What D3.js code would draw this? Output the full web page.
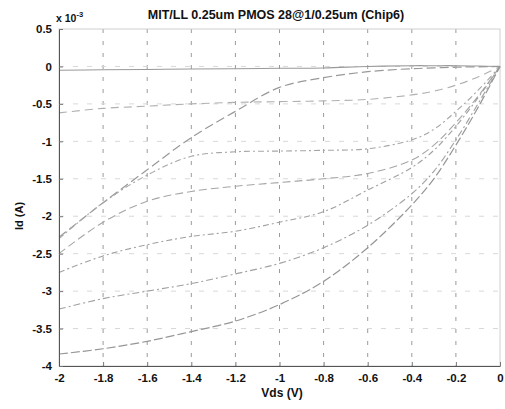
<!DOCTYPE html>
<html>
<head>
<meta charset="utf-8">
<script src="https://cdn.jsdelivr.net/npm/d3@7"></script>
<style>
  body { margin: 0; background: #fff; }
  svg { display: block; font-family: "Liberation Sans", Arial, sans-serif; }
</style>
</head>
<body>
<svg id="chart" width="505" height="409"></svg>
<script>
// Drain-source voltage sweep points (V)
const vds = [-2, -1.8, -1.6, -1.4, -1.2, -1.0, -0.8, -0.6, -0.4, -0.3, -0.2, -0.1, 0];

// Drain current of each sweep, in units of 1e-3 A
const sweep1 = [-0.05, -0.045, -0.04, -0.035, -0.03, -0.025, -0.02, 0.0, 0.01, 0.01, 0.01, 0.005, 0];
const sweep2 = [-0.62, -0.56, -0.53, -0.50, -0.48, -0.47, -0.46, -0.44, -0.38, -0.33, -0.25, -0.14, 0];
const sweep3 = [-2.28, -1.82, -1.38, -0.95, -0.60, -0.28, -0.15, -0.07, -0.03, -0.02, -0.01, -0.005, 0];
const sweep4 = [-2.30, -1.82, -1.45, -1.20, -1.14, -1.13, -1.12, -1.10, -0.98, -0.84, -0.60, -0.32, 0];
const sweep5 = [-2.50, -2.08, -1.80, -1.67, -1.60, -1.55, -1.50, -1.43, -1.25, -1.05, -0.75, -0.40, 0];
const sweep6 = [-2.75, -2.53, -2.38, -2.27, -2.20, -2.08, -1.94, -1.65, -1.35, -1.12, -0.80, -0.42, 0];
const sweep7 = [-3.24, -3.10, -3.00, -2.90, -2.77, -2.63, -2.42, -2.12, -1.70, -1.40, -0.98, -0.50, 0];
const sweep8 = [-3.84, -3.77, -3.67, -3.54, -3.40, -3.18, -2.87, -2.42, -1.85, -1.50, -1.05, -0.55, 0];

// Axis ticks and labels
const xTicks = [-2, -1.8, -1.6, -1.4, -1.2, -1, -0.8, -0.6, -0.4, -0.2, 0];
const xTickLabels = ["-2", "-1.8", "-1.6", "-1.4", "-1.2", "-1", "-0.8", "-0.6", "-0.4", "-0.2", "0"];
const yTicks = [0.5, 0, -0.5, -1, -1.5, -2, -2.5, -3, -3.5, -4];
const yTickLabels = ["0.5", "0", "-0.5", "-1", "-1.5", "-2", "-2.5", "-3", "-3.5", "-4"];

const titleText = "MIT/LL 0.25um PMOS 28@1/0.25um (Chip6)";
const xLabel = "Vds (V)";
const yLabel = "Id (A)";

const series = [sweep1, sweep2, sweep3, sweep4, sweep5, sweep6, sweep7, sweep8];
const lineStyles = [
  { stroke: "#999999", dash: null, width: 1.1 },
  { stroke: "#b0b0b0", dash: "8,5", width: 1.1 },
  { stroke: "#999999", dash: "9,4", width: 1.2 },
  { stroke: "#a6a6a6", dash: "6,3,2,3", width: 1.1 },
  { stroke: "#a6a6a6", dash: "8,4", width: 1.1 },
  { stroke: "#a0a0a0", dash: "6,3,2,3", width: 1.1 },
  { stroke: "#a0a0a0", dash: "7,3,2,3", width: 1.1 },
  { stroke: "#969696", dash: "9,3", width: 1.2 }
];

const svg = d3.select("#chart");
const plotLeft = 59, plotRight = 500, plotTop = 29, plotBottom = 366;

const x = d3.scaleLinear().domain([-2, 0]).range([plotLeft, plotRight]);
const y = d3.scaleLinear().domain([-4, 0.5]).range([plotBottom, plotTop]);

// Grid: vertical dotted lines read darker than horizontal ones
const grid = svg.append("g");
grid.selectAll("line.v").data(xTicks.slice(1, -1)).join("line")
  .attr("class", "v")
  .attr("x1", d => x(d)).attr("x2", d => x(d))
  .attr("y1", plotTop).attr("y2", plotBottom)
  .attr("stroke", "#9a9a9a").attr("stroke-width", 1)
  .attr("stroke-dasharray", "4,8");
grid.selectAll("line.h").data(yTicks.slice(1, -1)).join("line")
  .attr("class", "h")
  .attr("x1", plotLeft).attr("x2", plotRight)
  .attr("y1", d => y(d)).attr("y2", d => y(d))
  .attr("stroke", "#d8d8d8").attr("stroke-width", 1)
  .attr("stroke-dasharray", "5,9");

// Axes box
svg.append("rect")
  .attr("x", plotLeft).attr("y", plotTop)
  .attr("width", plotRight - plotLeft).attr("height", plotBottom - plotTop)
  .attr("fill", "none").attr("stroke", "#d0d0d0");

// Curves
const line = d3.line()
  .x((d, i) => x(vds[i]))
  .y(d => y(d))
  .curve(d3.curveCatmullRom.alpha(0.5));

svg.append("g").selectAll("path").data(series).join("path")
  .attr("d", d => line(d))
  .attr("fill", "none")
  .attr("stroke", (d, i) => lineStyles[i].stroke)
  .attr("stroke-width", (d, i) => lineStyles[i].width)
  .attr("stroke-dasharray", (d, i) => lineStyles[i].dash);

// Left and bottom axes
const xAxis = d3.axisBottom(x).tickValues(xTicks)
  .tickFormat((d, i) => xTickLabels[i]).tickSizeInner(-4).tickSizeOuter(0).tickPadding(8);
const yAxis = d3.axisLeft(y).tickValues(yTicks)
  .tickFormat((d, i) => yTickLabels[i]).tickSizeInner(-4).tickSizeOuter(0).tickPadding(7);

const gx = svg.append("g").attr("transform", `translate(0,${plotBottom})`).call(xAxis);
const gy = svg.append("g").attr("transform", `translate(${plotLeft},0)`).call(yAxis);
[gx, gy].forEach(g => {
  g.select(".domain").attr("stroke", "#555");
  g.selectAll(".tick line").attr("stroke", "#777");
  g.selectAll(".tick text")
    .attr("fill", "#111")
    .attr("font-size", 11.5)
    .attr("font-weight", "bold")
    .attr("font-family", "'Liberation Sans', Arial, sans-serif");
});

// Title and axis labels
svg.append("text")
  .attr("x", 276).attr("y", 19)
  .attr("text-anchor", "middle")
  .attr("font-size", 12.5).attr("font-weight", "bold").attr("fill", "#111")
  .text(titleText);

svg.append("text")
  .attr("x", 282).attr("y", 397)
  .attr("text-anchor", "middle")
  .attr("font-size", 12).attr("font-weight", "bold").attr("fill", "#111")
  .text(xLabel);

svg.append("text")
  .attr("transform", "translate(23,216) rotate(-90)")
  .attr("text-anchor", "middle")
  .attr("font-size", 11).attr("font-weight", "bold").attr("fill", "#111")
  .text(yLabel);

// Exponent multiplier for the y axis
const mult = svg.append("text")
  .attr("x", 56).attr("y", 22)
  .attr("font-size", 10.5).attr("font-weight", "bold").attr("fill", "#111");
mult.append("tspan").text("x 10");
mult.append("tspan").attr("dy", -5).attr("font-size", 7.5).text("-3");
</script>
</body>
</html>
